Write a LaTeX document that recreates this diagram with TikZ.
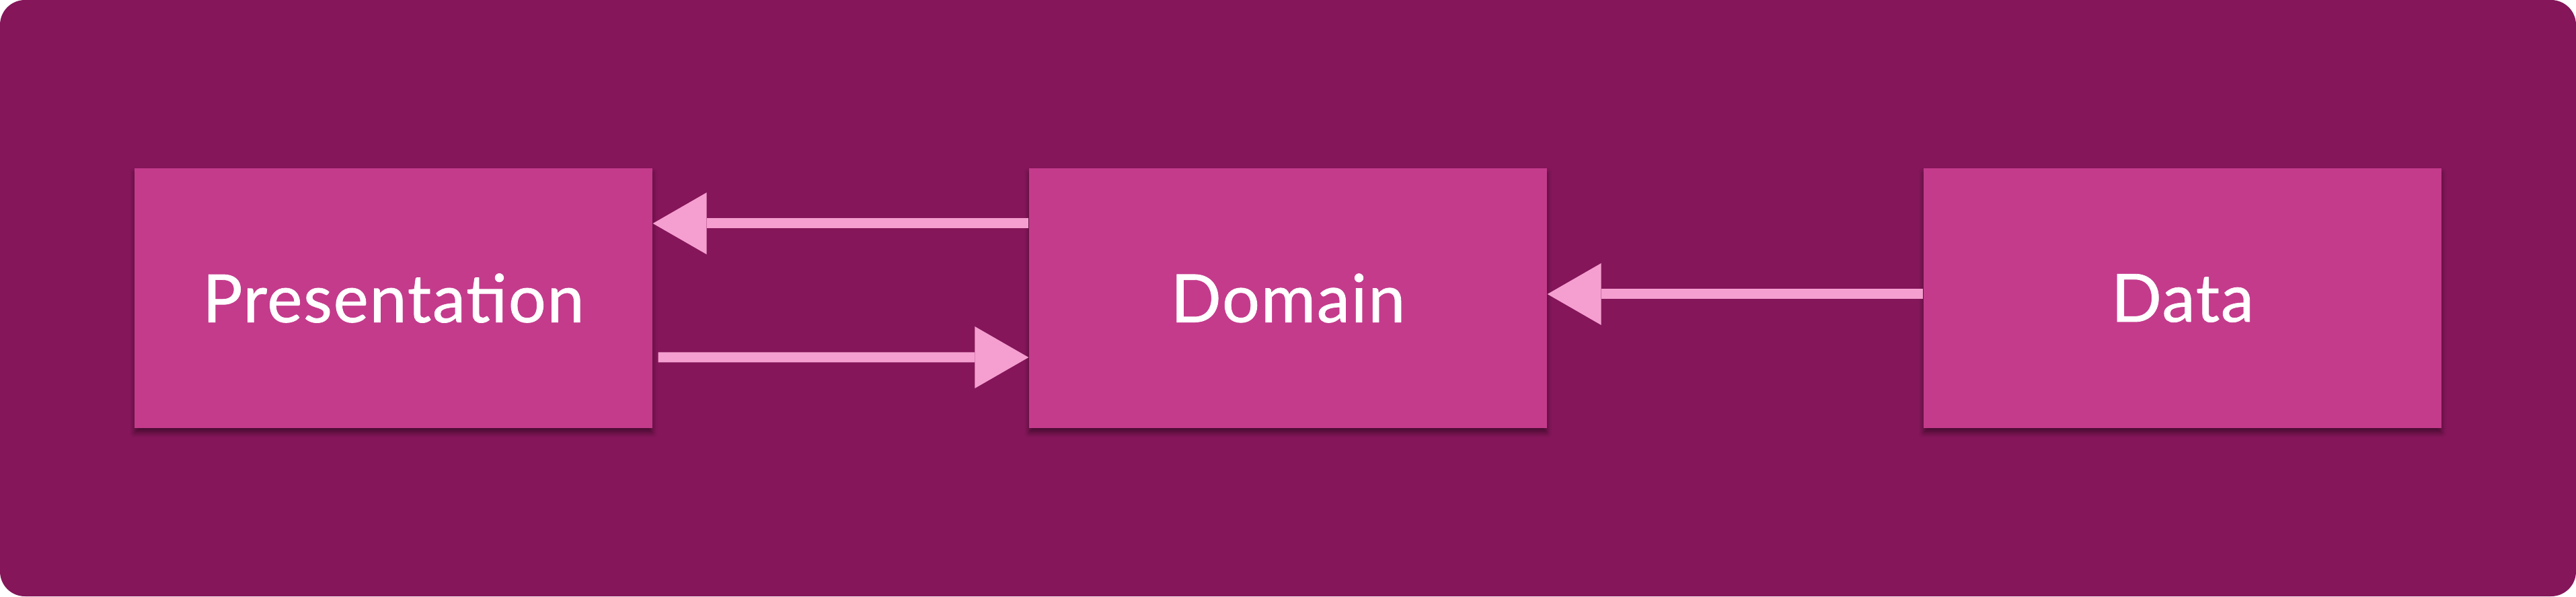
\documentclass[tikz,border=0pt]{standalone}
\usepackage{fontspec}
\setmainfont{Lato}
\newfontfamily\layerfont[LetterSpace=1.8,FakeBold=0.8]{Lato}
\usetikzlibrary{arrows.meta,shadows.blur}
\definecolor{canvaspurple}{HTML}{85165A}
\definecolor{layerpink}{HTML}{C43B8C}
\definecolor{linkpink}{HTML}{F59FD0}

\begin{document}
\begin{tikzpicture}[layer/.style={fill=layerpink,minimum width=7.7cm,minimum height=3.86cm,inner sep=0pt,
        text=white,font=\layerfont\fontsize{28.1}{30}\selectfont,
        blur shadow={shadow xshift=0pt,shadow yshift=-0.07cm,shadow blur radius=0.07cm,shadow opacity=45}},
    link/.style={draw=linkpink,line width=0.15cm,-{Triangle[length=0.8cm,width=0.92cm,line width=0pt]}}]
    \useasboundingbox (0,0) rectangle (38.3,8.86);
    \fill[white] (0,0) rectangle (38.3,8.86);
    \fill[canvaspurple,rounded corners=0.37cm] (0,0) rectangle (38.3,8.86);

    \node[layer] (pres) at (5.85,4.43) {Presentation};
    \node[layer] (dom) at (19.15,4.43) {Domain};
    \node[layer] (data) at (32.45,4.43) {Data};

    \draw[link] ([yshift=1.11cm]dom.west) -- ([yshift=1.11cm]pres.east) ;
    \draw[link] ([shift={(0.08,-0.88)}]pres.east) -- ([yshift=-0.88cm]dom.west) ;
    \draw[link] ([yshift=0.06cm]data.west) -- ([yshift=0.06cm]dom.east) ;
\end{tikzpicture}
\end{document}
